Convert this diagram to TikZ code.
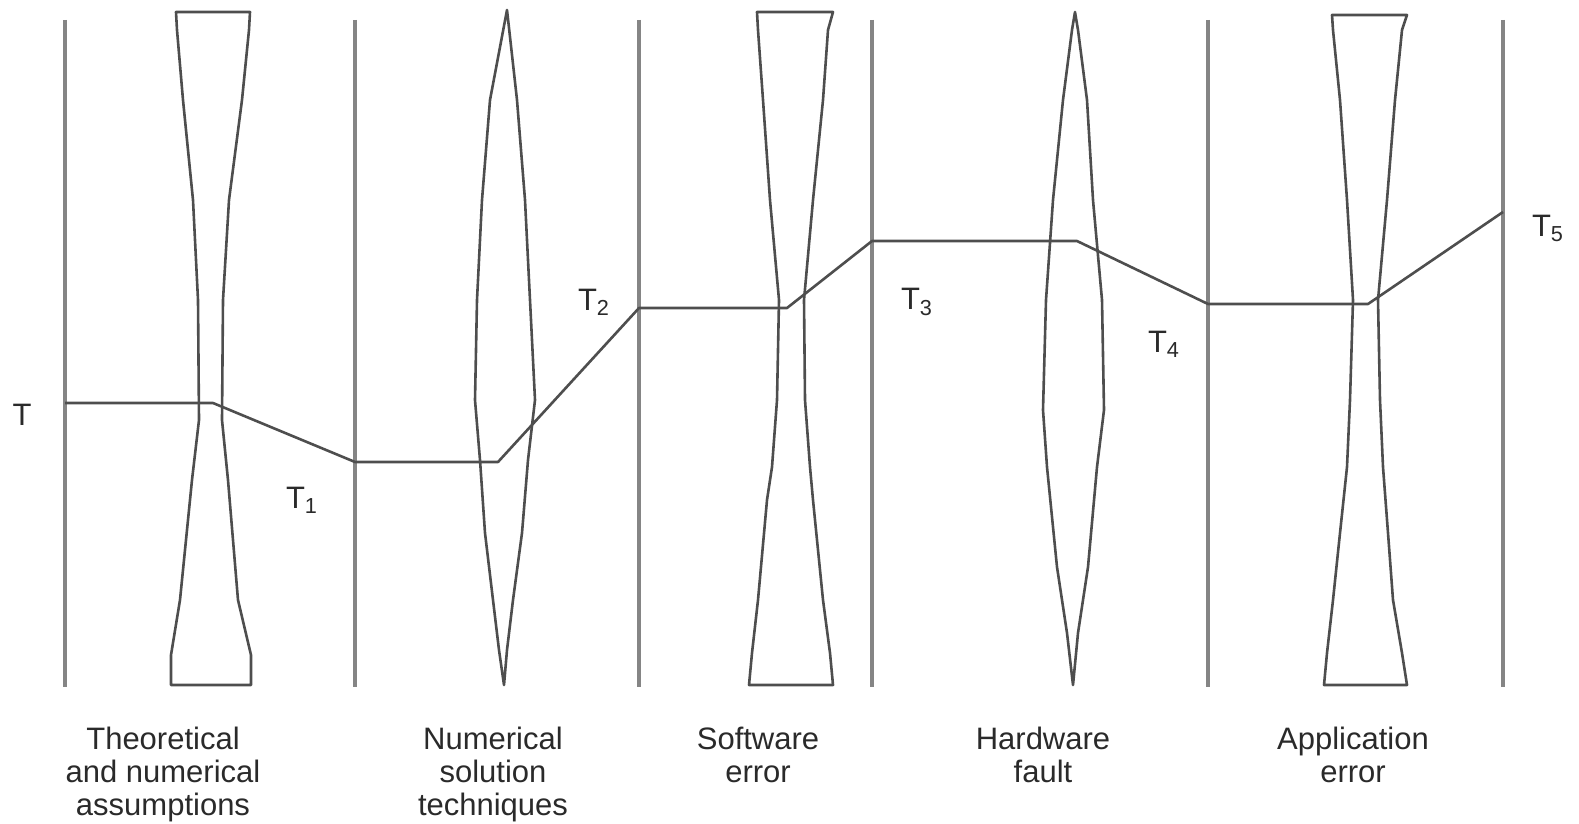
\documentclass[tikz,border=0pt]{standalone}
\usepackage{fontspec}
\setmainfont{Liberation Sans}
\usepackage{tikz}
\usetikzlibrary{positioning}
\definecolor{inkgray}{HTML}{4E4E4E}
\definecolor{railgray}{HTML}{858585}
\definecolor{textgray}{HTML}{2A2A2A}

\begin{document}
\begin{tikzpicture}[x=0.5pt, y=-0.5pt, font=\fontsize{15.5}{16.5}\selectfont, line join=round,
    rail/.style={draw=railgray, line width=1.6pt},
    funnel/.style={draw=inkgray, line width=1.3pt},
    errline/.style={draw=inkgray, line width=1.3pt},
    tlabel/.style={text=textgray, inner sep=0pt},
    caption/.style={text=textgray, align=center, inner sep=0pt, anchor=north}]
  \useasboundingbox (0,0) rectangle (1579,824);

  % stage boundaries
  \foreach \x in {65,355,639,872,1208,1503}
    \draw[rail] (\x,20) -- (\x,687);

  % uncertainty bands
  \draw[funnel] (176,12) -- (250,12) -- (249,30) -- (242,100) -- (229,200) -- (223,300) -- (222,420)
    -- (228,480) -- (238,600) -- (251,655) -- (251,685) -- (171,685) -- (171,655) -- (180,600)
    -- (192,480) -- (199,420) -- (198,300) -- (193,200) -- (183,100) -- (177,30) -- cycle;
  \draw[funnel] (507,10) -- (517,100) -- (525,200) -- (530,300) -- (535,400) -- (528,460) -- (522,533)
    -- (513,600) -- (507,650) -- (504,685) -- (499,650) -- (493,600) -- (485,533) -- (480,460)
    -- (475,400) -- (477,300) -- (482,200) -- (490,100) -- cycle;
  \draw[funnel] (757,12) -- (833,12) -- (828,30) -- (823,100) -- (813,200) -- (804,300) -- (805,400)
    -- (810,467) -- (813,500) -- (823,600) -- (830,653) -- (833,685) -- (749,685) -- (752,653)
    -- (758,600) -- (767,500) -- (772,467) -- (777,400) -- (779,300) -- (770,200) -- (763,100)
    -- (758,30) -- cycle;
  \draw[funnel] (1075,12) -- (1078,30) -- (1087,100) -- (1093,200) -- (1102,300) -- (1104,410)
    -- (1097,467) -- (1088,567) -- (1078,633) -- (1073,685) -- (1067,633) -- (1057,567) -- (1047,467)
    -- (1043,410) -- (1046,300) -- (1053,200) -- (1063,100) -- (1072,30) -- cycle;
  \draw[funnel] (1332,15) -- (1407,15) -- (1402,30) -- (1395,100) -- (1387,200) -- (1378,300)
    -- (1380,400) -- (1383,467) -- (1388,533) -- (1393,600) -- (1402,653) -- (1407,685)
    -- (1324,685) -- (1327,653) -- (1333,600) -- (1340,533) -- (1347,467) -- (1350,400)
    -- (1353,300) -- (1347,200) -- (1340,100) -- (1333,30) -- cycle;

  % error accumulation
  \coordinate (t0) at (65,403);
  \coordinate (t0b) at (213,403);
  \coordinate (t1) at (355,462);
  \coordinate (t1b) at (498,462);
  \coordinate (t2) at (639,308);
  \coordinate (t2b) at (787,308);
  \coordinate (t3) at (872,241);
  \coordinate (t3b) at (1077,241);
  \coordinate (t4) at (1208,304);
  \coordinate (t4b) at (1368,304);
  \coordinate (t5) at (1503,212);
  \draw[errline] (t0) -- (t0b) -- (t1) -- (t1b) -- (t2) -- (t2b) -- (t3) -- (t3b) -- (t4) -- (t4b) -- (t5);

  \node[tlabel] (lt0) at (22,415) {T};
  \node[tlabel] (lt1) at (302,500) {T\textsubscript{1}};
  \node[tlabel] (lt2) at (594,302) {T\textsubscript{2}};
  \node[tlabel] (lt3) at (917,302) {T\textsubscript{3}};
  \node[tlabel] (lt4) at (1164,344) {T\textsubscript{4}};
  \node[tlabel] (lt5) at (1548,228) {T\textsubscript{5}};

  \node[caption] (theory) at (163,727) {Theoretical\\and numerical\\assumptions};
  \node[caption] (numeric) at (493,727) {Numerical\\solution\\techniques};
  \node[caption] (software) at (758,727) {Software\\error};
  \node[caption] (hardware) at (1043,727) {Hardware\\fault};
  \node[caption] (application) at (1353,727) {Application\\error};
\end{tikzpicture}
\end{document}
